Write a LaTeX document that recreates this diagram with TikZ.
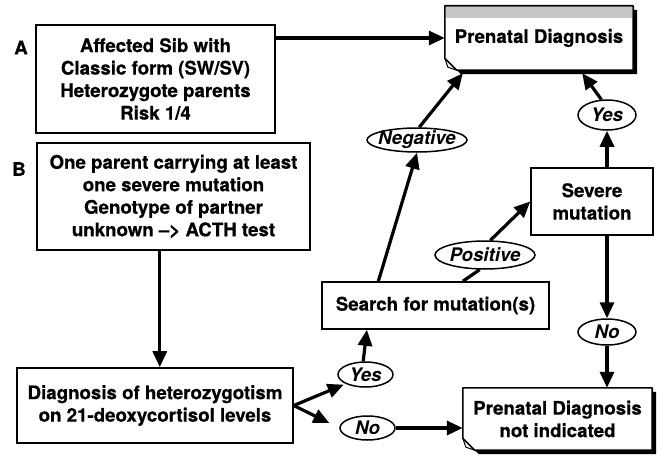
\documentclass[tikz,border=0pt]{standalone}
\usepackage{fontspec}
\setmainfont{TeX Gyre Heros}[BoldFeatures={FakeBold=0.6}]
\usetikzlibrary{arrows.meta,shapes.geometric,calc,backgrounds}

\begin{document}
\begin{tikzpicture}[x=1pt,y=-1pt,
  font=\fontsize{18.7}{22.5}\selectfont\bfseries,
  box/.style={draw,line width=1.6pt,align=center,inner sep=0pt},
  tag/.style={draw,ellipse,line width=1.5pt,inner xsep=-5pt,inner ysep=-1pt,
    font=\fontsize{18.7}{22.5}\selectfont\bfseries\itshape},
  doc/.style={align=center,inner sep=0pt},
  flow/.style={line width=3.2pt,-{Triangle[length=16pt,width=14pt]}},
  link/.style={line width=3.2pt}]
\useasboundingbox (0,0) rectangle (661,460);
% Starting situations
\node (labA) at (21,47.5) {A};
\node (labB) at (19,169) {B};
\node[box,minimum width=239,minimum height=108] (sib) at (155.5,79)
  {Affected Sib with\\Classic form (SW/SV)\\Heterozygote parents\\Risk 1/4};
\node[box,minimum width=273,minimum height=107] (carrier) at (173.5,196.5)
  {One parent carrying at least\\one severe mutation\\Genotype of partner\\unknown --> ACTH test};
\node[box,minimum width=276,minimum height=75] (hetero) at (155,405.5)
  {Diagnosis of heterozygotism\\on 21-deoxycortisol levels};
% Molecular work-up
\node[box,minimum width=227,minimum height=47] (search) at (435.5,305.5) {Search for mutation(s)};
\node[box,minimum width=122,minimum height=67] (severe) at (592,201.5) {Severe\\mutation};
% Outcomes
\node[doc,minimum width=188,minimum height=64] (pdtop) at (539,38) {Prenatal Diagnosis};
\node[doc,minimum width=189,minimum height=62] (pdno) at (557.5,419) {Prenatal Diagnosis\\not indicated};
% Answers
\node[tag,minimum width=100,minimum height=24] (neg) at (417,140) {Negative};
\node[tag,minimum width=100,minimum height=28] (pos) at (485,255) {Positive};
\node[tag,minimum width=58,minimum height=30] (yestop) at (607,115) {Yes};
\node[tag,minimum width=58,minimum height=26] (noright) at (607,332) {No};
\node[tag,minimum width=55,minimum height=25] (yeslow) at (365.5,374.5) {Yes};
\node[tag,minimum width=55,minimum height=24] (nolow) at (367.5,428) {No};
% Page shape of the outcome boxes
\begin{scope}[on background layer]
\foreach \d in {pdtop,pdno}{
  \fill ($(\d.north west)+(4,4)$) -- ($(\d.north east)+(4,4)$) -- ($(\d.south east)+(4,4)$)
    -- ($(\d.south west)+(16,4)$) -- ($(\d.south west)+(4,-8)$) -- cycle;
  \fill[white] (\d.north west) -- (\d.north east) -- (\d.south east)
    -- ($(\d.south west)+(12,0)$) -- ($(\d.south west)+(0,-12)$) -- cycle;
}
\fill[gray!45] ($(pdtop.north west)+(0.8,0.8)$) rectangle ($(pdtop.north east)+(-0.8,12)$);
\foreach \d in {pdtop,pdno}{
  \draw[line width=1.6pt,line join=round] (\d.north west) -- (\d.north east) -- (\d.south east)
    -- ($(\d.south west)+(12,0)$) -- ($(\d.south west)+(0,-12)$) -- cycle;
  \draw[line width=1pt] ($(\d.south west)+(0,-12)$) -- ($(\d.south west)+(3,-3)$)
    -- ($(\d.south west)+(12,0)$);
}
\end{scope}
% Connectors
\coordinate (drop) at ($(carrier.south west)!0.45!(carrier.south east)$);
\draw[flow] (sib.east |- pdtop.west) -- (pdtop.west);
\draw[flow] (drop) -- (drop |- hetero.north);
\draw[flow,shorten >=2pt] (hetero.east) -- (yeslow.south west);
\draw[flow,shorten >=11pt] (hetero.east) -- (nolow.west);
\draw[flow] (yeslow.100) -- ($(search.south west)!0.2!(search.south east)$);
\draw[flow] (nolow.east) -- (nolow.east -| pdno.west);
\draw[flow] ($(search.north west)!0.25!(search.north east)$) -- (neg.south);
\draw[flow] (neg.80) -- ($(pdtop.south west)+(18,3)$);
\draw[link] ($(search.north west)!0.62!(search.north east)$) -- (pos.250);
\draw[flow] (pos.70) -- (severe.west);
\draw[flow] (severe.north -| yestop.south) -- (yestop.south);
\draw[flow] (yestop.110) -- ($(pdtop.south east)+(-51,3)$);
\draw[flow] (severe.south -| noright.north) -- (noright.north);
\draw[flow] (noright.south) -- (noright.south |- pdno.north);
\end{tikzpicture}
\end{document}
